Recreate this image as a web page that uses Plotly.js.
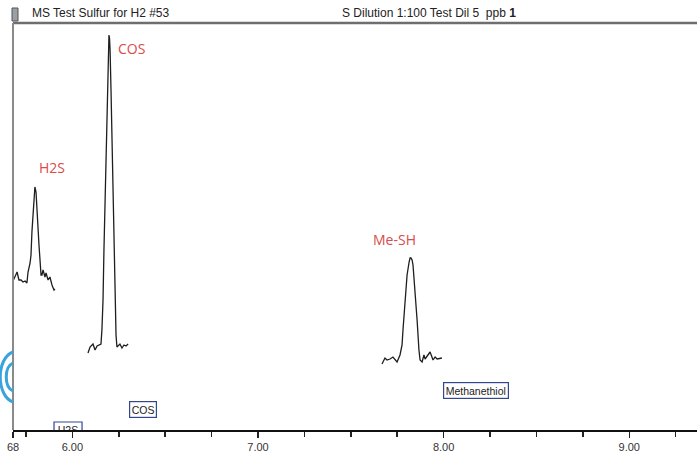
<!DOCTYPE html>
<html>
<head>
<meta charset="utf-8">
<script src="https://cdn.plot.ly/plotly-3.0.1.min.js"></script>
<style>html,body{margin:0;padding:0;background:#fff;}#chart{width:697px;height:454px;}</style>
</head>
<body>
<div id="chart"></div>
<script>
// Retention time (min) and detector signal
const h2sTime = [5.680,5.691,5.702,5.712,5.723,5.734,5.745,5.755,5.761,5.772,5.777,5.782,5.788,5.793,5.798,5.804,5.809,5.814,5.820,5.825,5.831,5.836,5.842,5.852,5.858,5.869,5.879,5.890,5.901,5.906];
const h2sSignal = [149,154,158,150,150,148,149,147,158,167,175,198,220,235,243,238,225,205,185,168,155,155,160,153,157,150,153,145,140,141];

const cosTime = [6.084,6.095,6.111,6.122,6.133,6.143,6.154,6.159,6.165,6.170,6.176,6.181,6.186,6.192,6.195,6.197,6.200,6.203,6.208,6.213,6.219,6.224,6.230,6.235,6.240,6.246,6.256,6.267,6.278,6.289,6.300];
const cosSignal = [77,83,86,80,84,85,86,100,130,180,230,285,335,375,390,395,392,380,340,290,235,180,130,95,83,84,86,82,85,84,86];

const meshTime = [7.668,7.684,7.695,7.711,7.727,7.749,7.765,7.776,7.781,7.792,7.803,7.814,7.819,7.824,7.830,7.835,7.846,7.857,7.867,7.873,7.884,7.894,7.900,7.911,7.927,7.943,7.954,7.965,7.981,7.991];
const meshSignal = [66,72,70,71,73,68,75,85,100,130,155,168,172,172,170,165,140,110,80,70,68,75,71,74,78,70,73,71,72,72];

const tickVals = [5.68,6,7,8,9];
const tickText = ["68","6.00","7.00","8.00","9.00"];

const peakNames = ["H2S","COS","Me-SH"];
const peakLabelX = [5.890,6.321,7.733];
const peakLabelY = [263,382,191];

const boxNames = ["COS","Methanethiol"];
const boxX = [6.380,8.177];
const boxY = [21,40];

const lineStyle = {color:'#1e1e1e', width:1.3};
const traces = [
  {x:h2sTime, y:h2sSignal, type:'scatter', mode:'lines', line:lineStyle, hoverinfo:'skip'},
  {x:cosTime, y:cosSignal, type:'scatter', mode:'lines', line:lineStyle, hoverinfo:'skip'},
  {x:meshTime, y:meshSignal, type:'scatter', mode:'lines', line:lineStyle, hoverinfo:'skip'},
  {x:[5.976], y:[-1], type:'scatter', mode:'text', text:['H2S'], cliponaxis:true,
   textfont:{family:'Arial, Liberation Sans, sans-serif', size:10.5, color:'#222'}, hoverinfo:'skip'}
];

const annotations = [];
peakNames.forEach((t,i)=>annotations.push({
  x:peakLabelX[i], y:peakLabelY[i], xref:'x', yref:'y', text:t, showarrow:false,
  font:{family:'Open Sans, sans-serif', size:14, color:'#d94c4c'}
}));
boxNames.forEach((t,i)=>annotations.push({
  x:boxX[i], y:boxY[i], xref:'x', yref:'y', text:t, showarrow:false,
  font:{family:'Arial, Liberation Sans, sans-serif', size:10.5, color:'#222'},
  bordercolor:'#34468f', borderwidth:1.2, borderpad:1.5, bgcolor:'#fff'
}));
annotations.push({x:(30-13)/684, y:1.0245, xref:'paper', yref:'paper', xanchor:'left', yanchor:'middle',
  text:'MS Test Sulfur for H2 #53', showarrow:false,
  font:{family:'Arial, Liberation Sans, sans-serif', size:12, color:'#222'}});
annotations.push({x:(340-13)/684, y:1.0245, xref:'paper', yref:'paper', xanchor:'left', yanchor:'middle',
  text:'S Dilution 1:100 Test Dil 5&nbsp;&nbsp;ppb <b>1</b>', showarrow:false,
  font:{family:'Arial, Liberation Sans, sans-serif', size:12, color:'#222'}});

const px = v => (v-13)/684;
const py = v => (430-v)/407;
const shapes = [
  {type:'line', xref:'paper', yref:'paper', x0:0, x1:1, y0:1, y1:1, line:{color:'#6e6e6e', width:2.5}},
  {type:'line', xref:'paper', yref:'paper', x0:0, x1:0, y0:0, y1:1, line:{color:'#8a8a8a', width:2}},
  {type:'rect', xref:'x', yref:'y', x0:5.901, x1:6.052, y0:-8, y1:8, line:{color:'#34468f', width:1.2}, fillcolor:'rgba(0,0,0,0)'},
  {type:'rect', xref:'paper', yref:'paper', x0:px(12), x1:px(18), y0:py(21), y1:py(8), line:{color:'#555', width:1}, fillcolor:'#9aa0a6'},
  {type:'path', xref:'paper', yref:'paper', path:`M ${px(13)},${py(352)} C ${px(-4)},${py(358)} ${px(-4)},${py(396)} ${px(13)},${py(402)}`, line:{color:'#3aa3dc', width:3}},
  {type:'path', xref:'paper', yref:'paper', path:`M ${px(13)},${py(363)} C ${px(4)},${py(367)} ${px(4)},${py(387)} ${px(13)},${py(391)}`, line:{color:'#3aa3dc', width:3}}
];

const layout = {
  width:697, height:454,
  margin:{l:13, r:0, t:23, b:24, pad:0},
  paper_bgcolor:'#fff', plot_bgcolor:'#fff',
  showlegend:false,
  xaxis:{
    range:[5.68,9.365], showgrid:false, zeroline:false,
    showline:true, linecolor:'#111', linewidth:2,
    tickmode:'array', tickvals:tickVals, ticktext:tickText,
    ticks:'outside', ticklen:6, tickwidth:1.5, tickcolor:'#222',
    minor:{tickmode:'linear', tick0:0, dtick:0.25, ticks:'outside', ticklen:5, tickwidth:1.5, tickcolor:'#222'},
    tickfont:{family:'Arial, Liberation Sans, sans-serif', size:11, color:'#333'},
    fixedrange:true
  },
  yaxis:{
    range:[0,407], showgrid:false, zeroline:false, showline:false,
    showticklabels:false, ticks:'', fixedrange:true
  },
  annotations:annotations,
  shapes:shapes
};

Plotly.newPlot('chart', traces, layout, {displayModeBar:false, staticPlot:true});
</script>
</body>
</html>
